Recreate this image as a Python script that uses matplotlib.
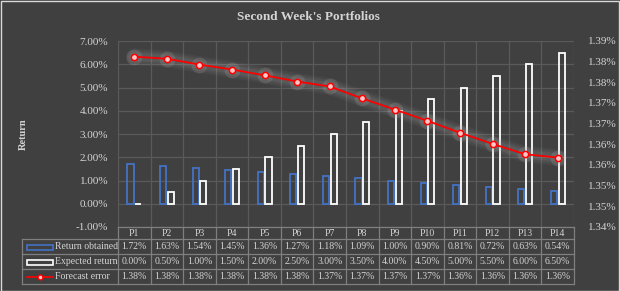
import numpy as np
import matplotlib.pyplot as plt
from matplotlib.lines import Line2D
from matplotlib.patches import Rectangle
from matplotlib.transforms import blended_transform_factory

plt.rcParams['font.family'] = ['Liberation Serif', 'DejaVu Serif']

# Data
portfolios = ['P1', 'P2', 'P3', 'P4', 'P5', 'P6', 'P7',
              'P8', 'P9', 'P10', 'P11', 'P12', 'P13', 'P14']
return_obtained = [1.72, 1.63, 1.54, 1.45, 1.36, 1.27, 1.18,
                   1.09, 1.00, 0.90, 0.81, 0.72, 0.63, 0.54]
expected_return = [0.00, 0.50, 1.00, 1.50, 2.00, 2.50, 3.00,
                   3.50, 4.00, 4.50, 5.00, 5.50, 6.00, 6.50]
forecast_error = [1.3862, 1.3857, 1.3843, 1.3831, 1.3817, 1.3802, 1.3790,
                  1.3761, 1.3734, 1.3707, 1.3678, 1.3651, 1.3626, 1.3618]
forecast_labels = ['1.38%'] * 6 + ['1.37%'] * 4 + ['1.36%'] * 4
left_ticks = [-1, 0, 1, 2, 3, 4, 5, 6, 7]
right_ticks = [1.345, 1.35, 1.355, 1.36, 1.365, 1.37, 1.375, 1.38, 1.385, 1.39]
right_labels = ['1.34%', '1.35%', '1.35%', '1.36%', '1.36%',
                '1.37%', '1.37%', '1.38%', '1.38%', '1.39%']

BG = '#404040'
TXT = '#d4d4d4'
GRID = '#5a5a5a'
TAB = '#7f7f7f'
BLUE = '#4472C4'

W, H = 620, 291
fig = plt.figure(figsize=(W / 100, H / 100), dpi=100, facecolor=BG)

# plot area in pixels
px0, px1, py0, py1 = 118, 574, 41, 227
ax = fig.add_axes([px0 / W, 1 - py1 / H, (px1 - px0) / W, (py1 - py0) / H])
ax.set_facecolor(BG)
x = np.arange(len(portfolios))
cw = (px1 - px0) / len(portfolios)

ax.bar(x - 0.117, return_obtained, width=0.19, fill=False,
       edgecolor=BLUE, linewidth=1.3, zorder=3)
ax.bar(x + 0.12, expected_return, width=0.19, fill=False,
       edgecolor='white', linewidth=1.3, zorder=3)

ax.set_xlim(-0.5, len(portfolios) - 0.5)
ax.set_ylim(-1, 7)
ax.set_yticks(left_ticks)
ax.set_yticklabels([f'{v:.2f}%' for v in left_ticks], color=TXT, fontsize=8)
ax.set_xticks([])
for b in np.arange(-0.5, len(portfolios), 1):
    ax.axvline(b, color=GRID, lw=0.9, zorder=1)
for t in left_ticks:
    ax.axhline(t, color=GRID, lw=0.9, zorder=1)
ax.tick_params(axis='y', length=0, pad=7)
for s in ax.spines.values():
    s.set_visible(False)

ax2 = ax.twinx()
ax2.set_ylim(1.345, 1.39)
ax2.set_yticks(right_ticks)
ax2.set_yticklabels(right_labels, color=TXT, fontsize=8)
ax2.tick_params(axis='y', length=0, pad=10)
for s in ax2.spines.values():
    s.set_visible(False)

# soft glow under the forecast line
for lw, a in [(12, 0.06), (9, 0.08), (6, 0.10)]:
    ax2.plot(x, forecast_error, color='#b8b8b8', lw=lw, alpha=a,
             solid_capstyle='round', zorder=2)
ax2.scatter(x, forecast_error, s=130, color='#b8b8b8', alpha=0.18,
            linewidths=0, zorder=2)
ax2.plot(x, forecast_error, color='#ff0000', lw=1.3, marker='o', ms=4.5,
         mfc='#ffc8c8', mec='#ff0000', mew=1.1, zorder=4)

fig.text(308 / W, 1 - 17 / H, "Second Week's Portfolios", color=TXT,
         fontsize=9.5, fontweight='bold', ha='center', va='center')
fig.text(23 / W, 1 - 134 / H, 'Return', color=TXT, fontsize=7.5,
         fontweight='bold', rotation=90, ha='center', va='center')

# data table below the plot
trans = blended_transform_factory(ax.transData, fig.transFigure)
fy = lambda p: 1 - p / H
xl = -0.5 - (px0 - 22) / cw
xr = len(portfolios) - 0.5
rows_y = [227, 239, 254, 269, 284]

def tline(xs, ys):
    fig.add_artist(Line2D(xs, [fy(v) for v in ys], transform=trans,
                          color=TAB, lw=0.9))

tline([-0.5, xr], [227, 227])
for yy in rows_y[1:]:
    tline([xl, xr], [yy, yy])
for b in np.arange(-0.5, len(portfolios), 1):
    tline([b, b], [227, 284])
tline([xl, xl], [239, 284])

tfs = 7
for i, name in enumerate(portfolios):
    fig.text(i, fy(233), name, transform=trans, color=TXT, fontsize=tfs,
             ha='center', va='center')
    fig.text(i, fy(246.5), f'{return_obtained[i]:.2f}%', transform=trans,
             color=TXT, fontsize=tfs, ha='center', va='center')
    fig.text(i, fy(261.5), f'{expected_return[i]:.2f}%', transform=trans,
             color=TXT, fontsize=tfs, ha='center', va='center')
    fig.text(i, fy(276.5), forecast_labels[i], transform=trans,
             color=TXT, fontsize=tfs, ha='center', va='center')

# legend keys in the first column
fig.add_artist(Rectangle((27 / W, fy(249.5)), 26 / W, 5 / H,
                         fill=False, edgecolor=BLUE, lw=1.2))
fig.add_artist(Rectangle((27 / W, fy(264.5)), 26 / W, 5 / H,
                         fill=False, edgecolor='white', lw=1.2))
fig.add_artist(Line2D([27 / W, 53 / W], [fy(276.5)] * 2, color='#ff0000',
                      lw=1.2))
fig.add_artist(Line2D([40 / W], [fy(276.5)], color='#ff0000', marker='o',
                      ms=3.5, mfc='#ffc8c8', mec='#ff0000', mew=1))
for yy, lab in [(246.5, 'Return obtained'), (261.5, 'Expected return'),
                (276.5, 'Forecast error')]:
    fig.text(55 / W, fy(yy), lab, color=TXT, fontsize=tfs, ha='left',
             va='center')

# outer frame
fig.add_artist(Rectangle((0.5 / W, 0.5 / H), (W - 1.5) / W, (H - 1.5) / H,
                         fill=False, edgecolor='#d9d9d9', lw=1))

fig.savefig('out.png', dpi=100, facecolor=BG)
